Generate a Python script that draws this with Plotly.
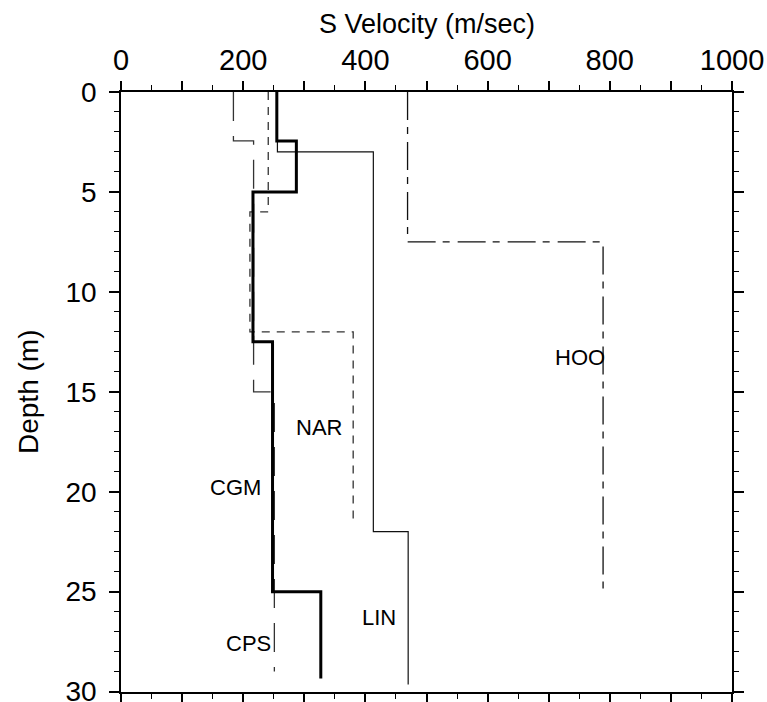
import plotly.graph_objects as go

# ---- data (step profiles: velocity m/s vs depth m) ----
cgm_vel = [255, 255, 287, 287, 216, 216, 248, 248, 327, 327]
cgm_depth = [0, 2.45, 2.45, 5, 5, 12.5, 12.5, 25, 25, 29.35]

lin_vel = [256, 256, 413, 413, 470, 470]
lin_depth = [0, 3, 3, 22, 22, 29.65]

cps_vel = [184, 184, 217, 217, 251, 251]
cps_depth = [0, 2.45, 2.45, 15, 15, 29]

nar_vel = [241, 241, 211, 211, 380, 380]
nar_depth = [0, 6, 6, 12, 12, 21.5]

hoo_vel = [469, 469, 789, 789]
hoo_depth = [0, 7.5, 7.5, 25]

label_text = ["CGM", "CPS", "NAR", "LIN", "HOO"]
label_vel = [188, 209, 324, 422, 751]
label_depth = [19.8, 27.6, 16.8, 26.3, 13.3]

x_tickvals = [0, 100, 200, 300, 400, 500, 600, 700, 800, 900, 1000]
x_ticktext = ["0", "", "200", "", "400", "", "600", "", "800", "", "1000"]
y_tickvals = [0, 5, 10, 15, 20, 25, 30]

FONT = "Liberation Sans, Arial, Helvetica, sans-serif"

fig = go.Figure()
fig.add_trace(go.Scatter(x=hoo_vel, y=hoo_depth, mode="lines",
                         line=dict(color="#111", width=1.3, dash="28px,7px,7px,8px"), name="HOO"))
fig.add_trace(go.Scatter(x=nar_vel, y=nar_depth, mode="lines",
                         line=dict(color="#333", width=1.3, dash="8px,7px"), name="NAR"))
fig.add_trace(go.Scatter(x=cps_vel, y=cps_depth, mode="lines",
                         line=dict(color="#333", width=1.3, dash="29px,15px"), name="CPS"))
fig.add_trace(go.Scatter(x=lin_vel, y=lin_depth, mode="lines",
                         line=dict(color="#111", width=1.2), name="LIN"))
fig.add_trace(go.Scatter(x=cgm_vel, y=cgm_depth, mode="lines",
                         line=dict(color="black", width=3), name="CGM"))

for t, xv, yv in zip(label_text, label_vel, label_depth):
    fig.add_annotation(x=xv, y=yv, text=t, showarrow=False, xanchor="center", yanchor="middle",
                       font=dict(family=FONT, size=22, color="black"))

# axis titles
fig.add_annotation(x=0.5, y=1, xref="paper", yref="paper", text="S Velocity (m/sec)",
                   showarrow=False, xanchor="center", yanchor="middle", yshift=68,
                   font=dict(family=FONT, size=27, color="black"))
fig.add_annotation(x=0, y=0.5, xref="paper", yref="paper", text="Depth (m)", textangle=-90,
                   showarrow=False, xanchor="center", yanchor="middle", xshift=-93,
                   font=dict(family=FONT, size=28, color="black"))

fig.update_layout(
    width=767, height=702,
    margin=dict(l=121, r=35, t=92, b=10),
    paper_bgcolor="white", plot_bgcolor="white",
    showlegend=False,
    font=dict(family=FONT, size=27, color="black"),
    xaxis=dict(
        side="top", range=[0, 1000], tickmode="array", tickvals=x_tickvals, ticktext=x_ticktext,
        ticks="outside", ticklen=9, tickwidth=1.5, tickcolor="black",
        minor=dict(dtick=50, ticks="outside", ticklen=5, tickwidth=1.2, tickcolor="black", showgrid=False),
        showline=True, linecolor="black", linewidth=1.5, mirror="allticks",
        showgrid=False, zeroline=False, ticklabeloverflow="allow",
        tickfont=dict(family=FONT, size=29), automargin=False,
    ),
    yaxis=dict(
        range=[30.02, 0], tickmode="array", tickvals=y_tickvals,
        ticks="outside", ticklen=10, tickwidth=1.5, tickcolor="black",
        minor=dict(dtick=1, ticks="outside", ticklen=5, tickwidth=1.2, tickcolor="black", showgrid=False),
        showline=True, linecolor="black", linewidth=1.5, mirror="allticks",
        showgrid=False, zeroline=False, ticklabelstandoff=7, ticklabeloverflow="allow",
        tickfont=dict(family=FONT, size=28), automargin=False,
    ),
)

fig.write_html("out.html", config={"displayModeBar": False},
               post_script="document.body.style.margin='0';document.body.style.overflow='hidden';")
